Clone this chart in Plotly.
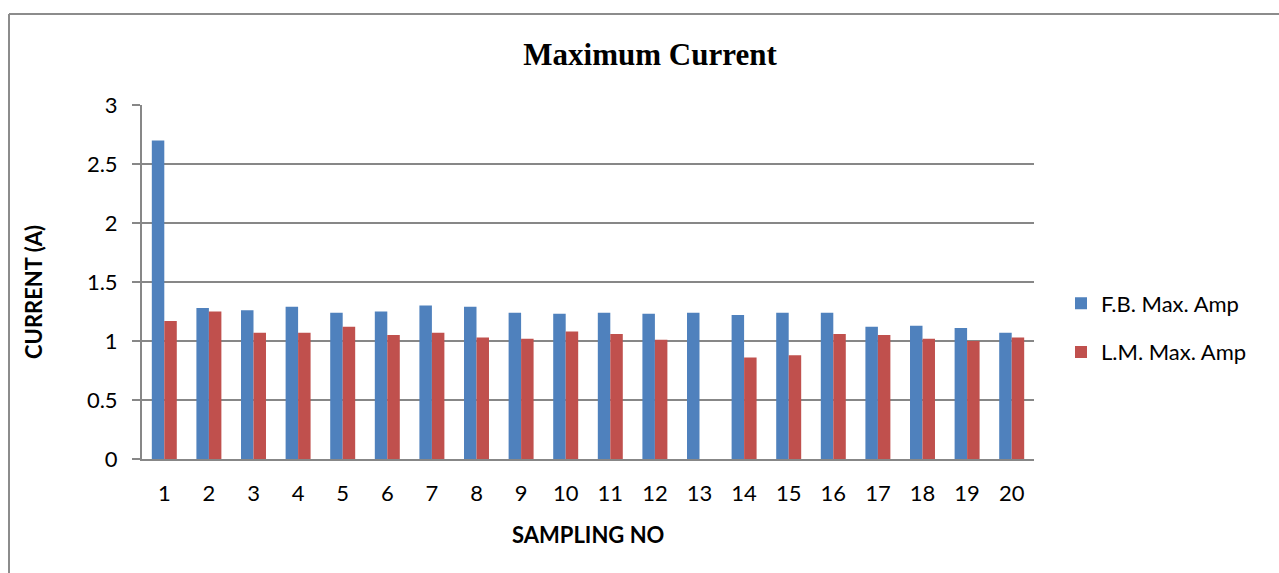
import plotly.graph_objects as go

# Sampling numbers and maximum current readings (A)
sampling_no = [str(i) for i in range(1, 21)]
fb_max_amp = [2.70, 1.28, 1.26, 1.29, 1.24, 1.25, 1.30, 1.29, 1.24, 1.23,
              1.24, 1.23, 1.24, 1.22, 1.24, 1.24, 1.12, 1.13, 1.11, 1.07]
lm_max_amp = [1.17, 1.25, 1.07, 1.07, 1.12, 1.05, 1.07, 1.03, 1.02, 1.08,
              1.06, 1.01, 0.00, 0.86, 0.88, 1.06, 1.05, 1.02, 1.00, 1.03]
y_ticks = [0, 0.5, 1, 1.5, 2, 2.5, 3]

W, H = 1279, 573
L, R, T, B = 142, 245, 105, 114
plot_w = W - L - R
plot_h = H - T - B

label_font = "Lato, Carlito, Calibri, sans-serif"
axis_gray = "#878787"

fig = go.Figure()
fig.add_trace(go.Bar(
    x=sampling_no, y=fb_max_amp, name="F.B. Max. Amp",
    marker=dict(color="#4F81BD", line=dict(width=0)),
    legendgroup="fb",
))
fig.add_trace(go.Bar(
    x=sampling_no, y=lm_max_amp, name="L.M. Max. Amp",
    marker=dict(color="#C0504D", line=dict(width=0)),
    legendgroup="lm",
))

# Pixel -> paper coordinate helpers
px_to_x = lambda px: (px - L) / plot_w
px_to_y = lambda py: (H - B - py) / plot_h

# Chart-area frame (left and top edges)
fig.add_shape(type="line", xref="paper", yref="paper",
              x0=px_to_x(9), x1=px_to_x(9), y0=px_to_y(14), y1=px_to_y(H + 5),
              line=dict(color="#8C8C8C", width=2))
fig.add_shape(type="line", xref="paper", yref="paper",
              x0=px_to_x(9), x1=px_to_x(W + 5), y0=px_to_y(14), y1=px_to_y(14),
              line=dict(color="#8C8C8C", width=2))

# Axis titles
fig.add_annotation(text="<b>CURRENT (A)</b>", xref="paper", yref="paper",
                   x=px_to_x(33), y=px_to_y(292), xanchor="center", yanchor="middle",
                   textangle=-90, showarrow=False,
                   font=dict(family=label_font, size=22, color="black"))
fig.add_annotation(text="<b>SAMPLING NO</b>", xref="paper", yref="paper",
                   x=0.5, y=px_to_y(534), xanchor="center", yanchor="middle",
                   showarrow=False,
                   font=dict(family=label_font, size=22, color="black"))

fig.update_layout(
    width=W, height=H,
    margin=dict(l=L, r=R, t=T, b=B),
    paper_bgcolor="white", plot_bgcolor="white",
    barmode="group", bargap=0.44, bargroupgap=0,
    title=dict(text="<b>Maximum Current</b>", x=650 / W,
               xanchor="center", y=1 - 54 / H, yanchor="middle",
               font=dict(family="Liberation Serif, Times New Roman, serif", size=31, color="black")),
    font=dict(family=label_font, size=22, color="black"),
    legend=dict(x=px_to_x(1061), y=px_to_y(328), xanchor="left", yanchor="middle",
                font=dict(family=label_font, size=22, color="black"),
                tracegroupgap=17, itemwidth=30, bgcolor="rgba(0,0,0,0)"),
    showlegend=True,
)

fig.update_xaxes(
    type="category", showgrid=False, showline=True, linecolor=axis_gray, linewidth=2,
    ticks="", ticklabelstandoff=14,
    tickfont=dict(family=label_font, size=22, color="black"),
)
fig.update_yaxes(
    range=[0, 3], tickvals=y_ticks, ticktext=[f"{v:g}" for v in y_ticks],
    showgrid=True, gridcolor=axis_gray, gridwidth=2,
    showline=True, linecolor=axis_gray, linewidth=2,
    ticks="outside", ticklen=8, tickcolor=axis_gray, tickwidth=2,
    ticklabelstandoff=10,
    tickfont=dict(family=label_font, size=22, color="black"),
    zeroline=False,
)

fig.write_html("out.html")
